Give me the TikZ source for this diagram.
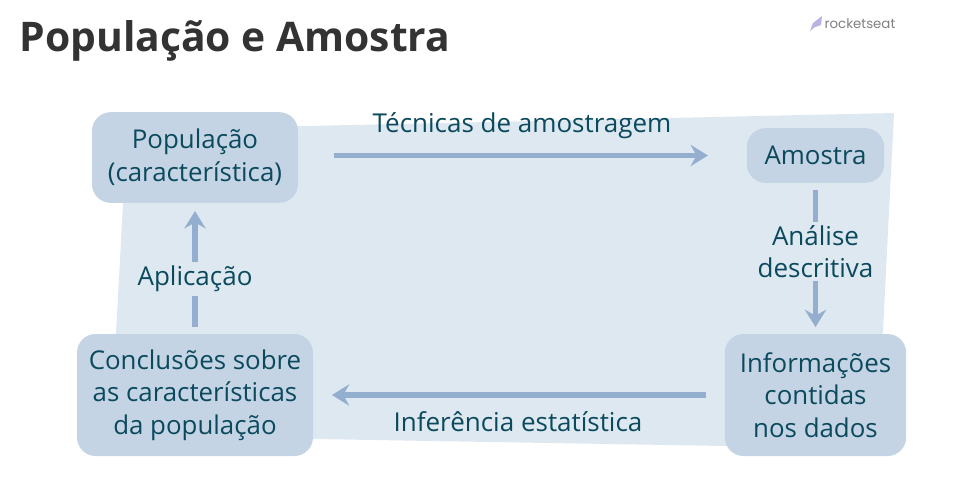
\documentclass[tikz,border=0pt]{standalone}
\usepackage{fontspec}
\setmainfont{Open Sans}
\newfontfamily\logofont{Poppins}
\definecolor{sheetblue}{HTML}{DEE8F1}
\definecolor{boxblue}{HTML}{C4D4E5}
\definecolor{arrowblue}{HTML}{93AECF}
\definecolor{inkteal}{HTML}{0B4A5C}
\definecolor{titlegray}{HTML}{333333}
\definecolor{rocketlilac}{HTML}{B9B2E2}
\usetikzlibrary{arrows.meta}
\newcommand{\boxlines}[2]{\raisebox{-2pt}{\parbox{#1}{\centering #2}}}
\tikzset{
  stagebox/.style = {shape=rectangle, rounded corners=14pt, fill=boxblue,
                     text=inkteal, align=center, font=\fontsize{19.4}{24.5}\selectfont,
                     inner sep=0pt, anchor=center},
  flowlabel/.style = {text=inkteal, align=center, font=\fontsize{19.5}{24.5}\selectfont,
                      inner sep=0pt},
  flowline/.style = {draw=arrowblue, line width=4.4pt},
  flowarrow/.style = {flowline, -{Stealth[length=13pt,width=16pt,inset=4.5pt]}}
}
\begin{document}
\begin{tikzpicture}[x=0.75pt,y=-0.75pt]
\useasboundingbox (0,0) rectangle (966,483);
\fill[sheetblue] (127,130) -- (894,113) -- (877,448.6) -- (110.5,435.5) -- cycle;

\node [font=\fontsize{30.6}{38}\selectfont\bfseries, text=titlegray, inner sep=0pt] (title) at (235,41) {População e Amostra};
\fill [rocketlilac] (810,31) -- (813,23) -- (822,16) -- (821,25) -- (815,27) -- cycle;
\node [font=\fontsize{10}{12}\logofont\selectfont, text=black!50, inner sep=0pt] (logo) at (860,24) {rocketseat};

\node [stagebox, minimum width=154.5pt, minimum height=68pt] (pop) at (195,157.5) {\boxlines{150pt}{População\\(característica)}};
\node [stagebox, minimum width=103pt, minimum height=41pt] (amostra) at (815.5,155.5) {Amostra};
\node [stagebox, minimum width=136pt, minimum height=91.5pt] (info) at (815.5,395) {\boxlines{130pt}{Informações\\contidas\\nos dados}};
\node [stagebox, minimum width=177pt, minimum height=91.5pt] (concl) at (195,395) {\boxlines{170pt}{Conclusões sobre\\as características\\da população}};

\node [flowlabel] (tecnicas) at (522,125.5) {Técnicas de amostragem};
\node [flowlabel] (analise) at (815.5,251.5) {Análise\\descritiva};
\node [flowlabel] (inferencia) at (518,422) {Inferência estatística};
\node [flowlabel] (aplicacao) at (195,279) {Aplicação};

\draw [flowarrow, shorten <=27pt, shorten >=29pt] (pop.east |- amostra.west) -- (amostra.west);
\draw [flowline, shorten <=5pt, shorten >=2pt] (amostra) -- (analise);
\draw [flowarrow, shorten <=2pt, shorten >=5pt] (analise) -- (info);
\draw [flowarrow, shorten <=14pt, shorten >=14pt] (info.west |- 0,395) -- (concl.east |- 0,395);
\draw [flowline, shorten <=5pt, shorten >=3pt] (concl) -- (aplicacao);
\draw [flowarrow, shorten <=3pt, shorten >=6pt] (aplicacao) -- (pop);
\end{tikzpicture}
\end{document}
